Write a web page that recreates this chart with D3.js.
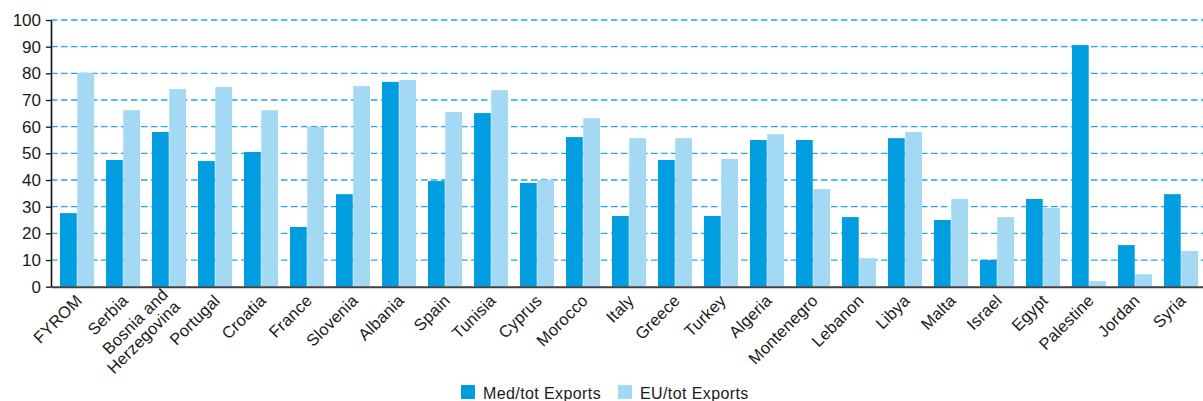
<!DOCTYPE html>
<html>
<head>
<meta charset="utf-8">
<script src="https://cdn.jsdelivr.net/npm/d3@7"></script>
<style>
  body { margin: 0; background: #fff; }
  svg { display: block; font-family: "Liberation Sans", Arial, Helvetica, sans-serif; }
</style>
</head>
<body>
<div id="chart"></div>
<script>
const countries = ["FYROM", "Serbia", "Bosnia and|Herzegovina", "Portugal", "Croatia", "France", "Slovenia",
  "Albania", "Spain", "Tunisia", "Cyprus", "Morocco", "Italy", "Greece", "Turkey", "Algeria", "Montenegro",
  "Lebanon", "Libya", "Malta", "Israel", "Egypt", "Palestine", "Jordan", "Syria"];
const medExports = [27.6, 47.5, 58, 47.1, 50.5, 22.4, 34.7, 76.8, 39.6, 65.1, 38.9, 56.1, 26.5, 47.5, 26.5,
  55, 55, 26.1, 55.7, 25, 10, 32.9, 90.6, 15.6, 34.7];
const euExports = [80.2, 66.2, 74.1, 74.9, 66.2, 59.9, 75.2, 77.5, 65.5, 73.7, 40, 63.2, 55.7, 55.7, 47.9,
  57.2, 36.6, 10.7, 58, 32.9, 26.1, 29.5, 2.1, 4.7, 13.4];
const seriesNames = ["Med/tot Exports", "EU/tot Exports"];
const seriesColors = ["#009ee0", "#a3d9f3"];
const yTicks = [0, 10, 20, 30, 40, 50, 60, 70, 80, 90, 100];

const width = 1203, height = 401;
const plotLeft = 51, plotRight = 1207, plotTop = 20, plotBottom = 286.7;

const svg = d3.select("#chart").append("svg")
  .attr("width", width)
  .attr("height", height);

const x = d3.scaleBand()
  .domain(countries)
  .range([plotLeft, plotRight])
  .paddingInner(0.26)
  .paddingOuter(0.196);

const x1 = d3.scaleBand()
  .domain([0, 1])
  .range([0, x.bandwidth()])
  .paddingInner(0.03);

const y = d3.scaleLinear()
  .domain([0, 100])
  .range([plotBottom, plotTop]);

// dashed grid lines
svg.append("g")
  .selectAll("line")
  .data(yTicks.filter(d => d > 0))
  .join("line")
  .attr("x1", plotLeft)
  .attr("x2", width)
  .attr("y1", d => y(d))
  .attr("y2", d => y(d))
  .attr("stroke", "#1fa8e6")
  .attr("stroke-width", 1.3)
  .attr("stroke-dasharray", "6.5,3.5");

// bars
const groups = svg.append("g")
  .selectAll("g")
  .data(countries.map((c, i) => ({ c, vals: [medExports[i], euExports[i]] })))
  .join("g")
  .attr("transform", d => `translate(${x(d.c)},0)`);

groups.selectAll("rect")
  .data(d => d.vals.map((v, k) => ({ v, k })))
  .join("rect")
  .attr("x", d => x1(d.k))
  .attr("width", x1.bandwidth())
  .attr("y", d => y(d.v))
  .attr("height", d => y(0) - y(d.v))
  .attr("fill", d => seriesColors[d.k]);

// y axis
const yAxis = svg.append("g")
  .attr("transform", `translate(${plotLeft},0)`)
  .call(d3.axisLeft(y).tickValues(yTicks).tickSize(5).tickSizeOuter(0).tickPadding(5));
yAxis.select(".domain").attr("stroke", "#111").attr("stroke-width", 1.6);
yAxis.selectAll(".tick line").attr("stroke", "#111").attr("stroke-width", 1.3);
yAxis.selectAll(".tick text")
  .attr("font-size", 17)
  .attr("fill", "#1a1a1a")
  .attr("font-family", "Liberation Sans, Arial, sans-serif");

// x axis
const xAxis = svg.append("g")
  .attr("transform", `translate(0,${y(0)})`)
  .call(d3.axisBottom(x).tickSize(0).tickSizeOuter(0).tickFormat(""));
xAxis.select(".domain").attr("stroke", "#3d4145").attr("stroke-width", 2);
xAxis.selectAll(".tick text").remove();

xAxis.selectAll(".tick").each(function(d) {
  const lines = d.split("|");
  const t = d3.select(this).append("text")
    .attr("transform", "translate(6,15) rotate(-45)")
    .attr("text-anchor", "end")
    .attr("font-size", 16.5)
    .attr("letter-spacing", 0.2)
    .attr("fill", "#1a1a1a")
    .attr("font-family", "Liberation Sans, Arial, sans-serif");
  lines.forEach((ln, i) => {
    t.append("tspan")
      .attr("x", 0)
      .attr("y", lines.length === 1 ? 0 : (i - 0.5) * 17)
      .text(ln);
  });
});

// legend
const legendPos = [461, 618];
const legend = svg.append("g")
  .selectAll("g")
  .data(seriesNames)
  .join("g")
  .attr("transform", (d, i) => `translate(${legendPos[i]},385)`);

legend.append("rect")
  .attr("width", 14)
  .attr("height", 14)
  .attr("fill", (d, i) => seriesColors[i]);

legend.append("text")
  .attr("x", 22)
  .attr("y", 14)
  .attr("font-size", 16)
  .attr("letter-spacing", 0.4)
  .attr("fill", "#1a1a1a")
  .text(d => d);
</script>
</body>
</html>
